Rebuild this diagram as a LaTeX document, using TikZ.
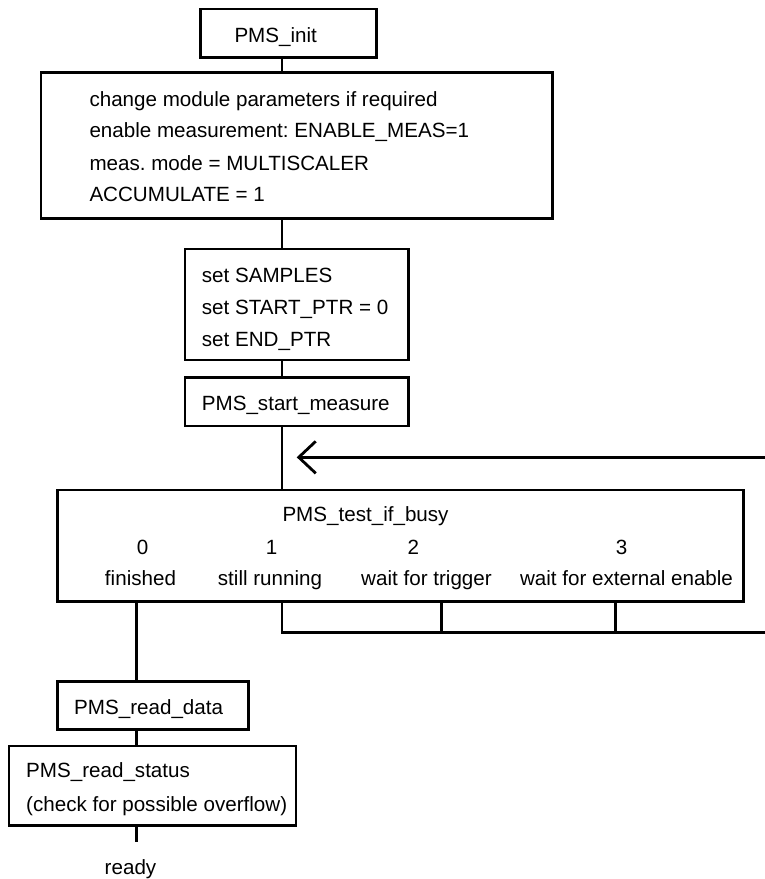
\documentclass[tikz,border=0pt]{standalone}
\usepackage{fontspec}
\setmainfont{Liberation Sans}
\usetikzlibrary{arrows.meta}
\frenchspacing
\begin{document}
\begin{tikzpicture}[x=1pt,y=-1pt,
  box/.style={draw, line width=2.8pt, outer sep=0pt, inner sep=0pt, anchor=north west},
  txt/.style={anchor=base west, inner sep=0pt, font=\fontsize{20.6}{32}\selectfont\frenchspacing},
  ctxt/.style={anchor=base, inner sep=0pt, font=\fontsize{20.6}{32}\selectfont\frenchspacing},
  conn/.style={line width=2.8pt}]
\useasboundingbox (0,0) rectangle (765,879);
% spine coordinates
\coordinate (sx) at (282,0);
\coordinate (fx) at (136.7,0);
\coordinate (b2x) at (441.7,0);
\coordinate (b3x) at (615.7,0);
% boxes
\node[box, minimum width=176.4pt, minimum height=48.7pt] (init) at (200.3,9) {};
\node[box, minimum width=511.3pt, minimum height=145.6pt] (setup) at (41,72.7) {};
\node[box, minimum width=223.3pt, minimum height=111pt] (samp) at (185,249) {};
\node[box, minimum width=223.3pt, minimum height=48.7pt] (start) at (185,377.3) {};
\node[box, minimum width=686pt, minimum height=111.7pt] (test) at (57.3,490) {};
\node[box, minimum width=191pt, minimum height=47.6pt] (rdata) at (57.3,681.7) {};
\node[box, minimum width=287pt, minimum height=79.7pt] (rstat) at (9,746) {};
% texts
\node[txt] (tinit) at (234.3,42.7) {PMS\_init};
\node[txt] (s1) at (89.3,106) {change module parameters if required};
\node[txt] (s2) at (89.3,137.7) {enable measurement: ENABLE\_MEAS=1};
\node[txt] (s3) at (89.3,170) {meas. mode = MULTISCALER};
\node[txt] (s4) at (89.3,201.7) {ACCUMULATE = 1};
\node[txt] (p1) at (201.7,282.3) {set SAMPLES};
\node[txt] (p2) at (201.7,314) {set START\_PTR = 0};
\node[txt] (p3) at (201.7,346) {set END\_PTR};
\node[txt] (tstart) at (201.7,410) {PMS\_start\_measure};
\node[txt] (ttest) at (282.3,521.7) {PMS\_test\_if\_busy};
\node[ctxt] (n0) at (142.7,554) {0};
\node[ctxt] (n1) at (271.7,554) {1};
\node[ctxt] (n2) at (413.3,554) {2};
\node[ctxt] (n3) at (621.7,554) {3};
\node[ctxt] (l0) at (140.5,585.7) {finished};
\node[ctxt] (l1) at (270,585.7) {still running};
\node[ctxt] (l2) at (426.5,585.7) {wait for trigger};
\node[ctxt] (l3) at (626.5,585.7) {wait for external enable};
\node[txt] (trdata) at (74,714) {PMS\_read\_data};
\node[txt] (tr1) at (26,777.7) {PMS\_read\_status};
\node[txt] (tr2) at (26,811) {(check for possible overflow)};
\node[ctxt] (ready) at (130.5,874) {ready};
% connectors
\coordinate (readyend) at (136.7,841.7);
\coordinate (loopR) at (765,457.3);
\coordinate (loopT) at (296.7,457.3);
\coordinate (busR) at (765,632.3);
\draw[conn] (init.south -| sx) -- (setup.north -| sx);
\draw[conn] (setup.south -| sx) -- (samp.north -| sx);
\draw[conn] (samp.south -| sx) -- (start.north -| sx);
\draw[conn] (start.south -| sx) -- (test.north -| sx);
\draw[conn, -{Straight Barb[length=17pt,width=32pt,line width=2.8pt]}] (loopR) -- (loopT);
\draw[conn] (test.south -| sx) |- (busR);
\draw[conn] (test.south -| b2x) -- (busR -| b2x);
\draw[conn] (test.south -| b3x) -- (busR -| b3x);
\draw[conn] (test.south -| fx) -- (rdata.north -| fx);
\draw[conn] (rdata.south -| fx) -- (rstat.north -| fx);
\draw[conn] (rstat.south -| fx) -- (readyend);
\end{tikzpicture}
\end{document}
